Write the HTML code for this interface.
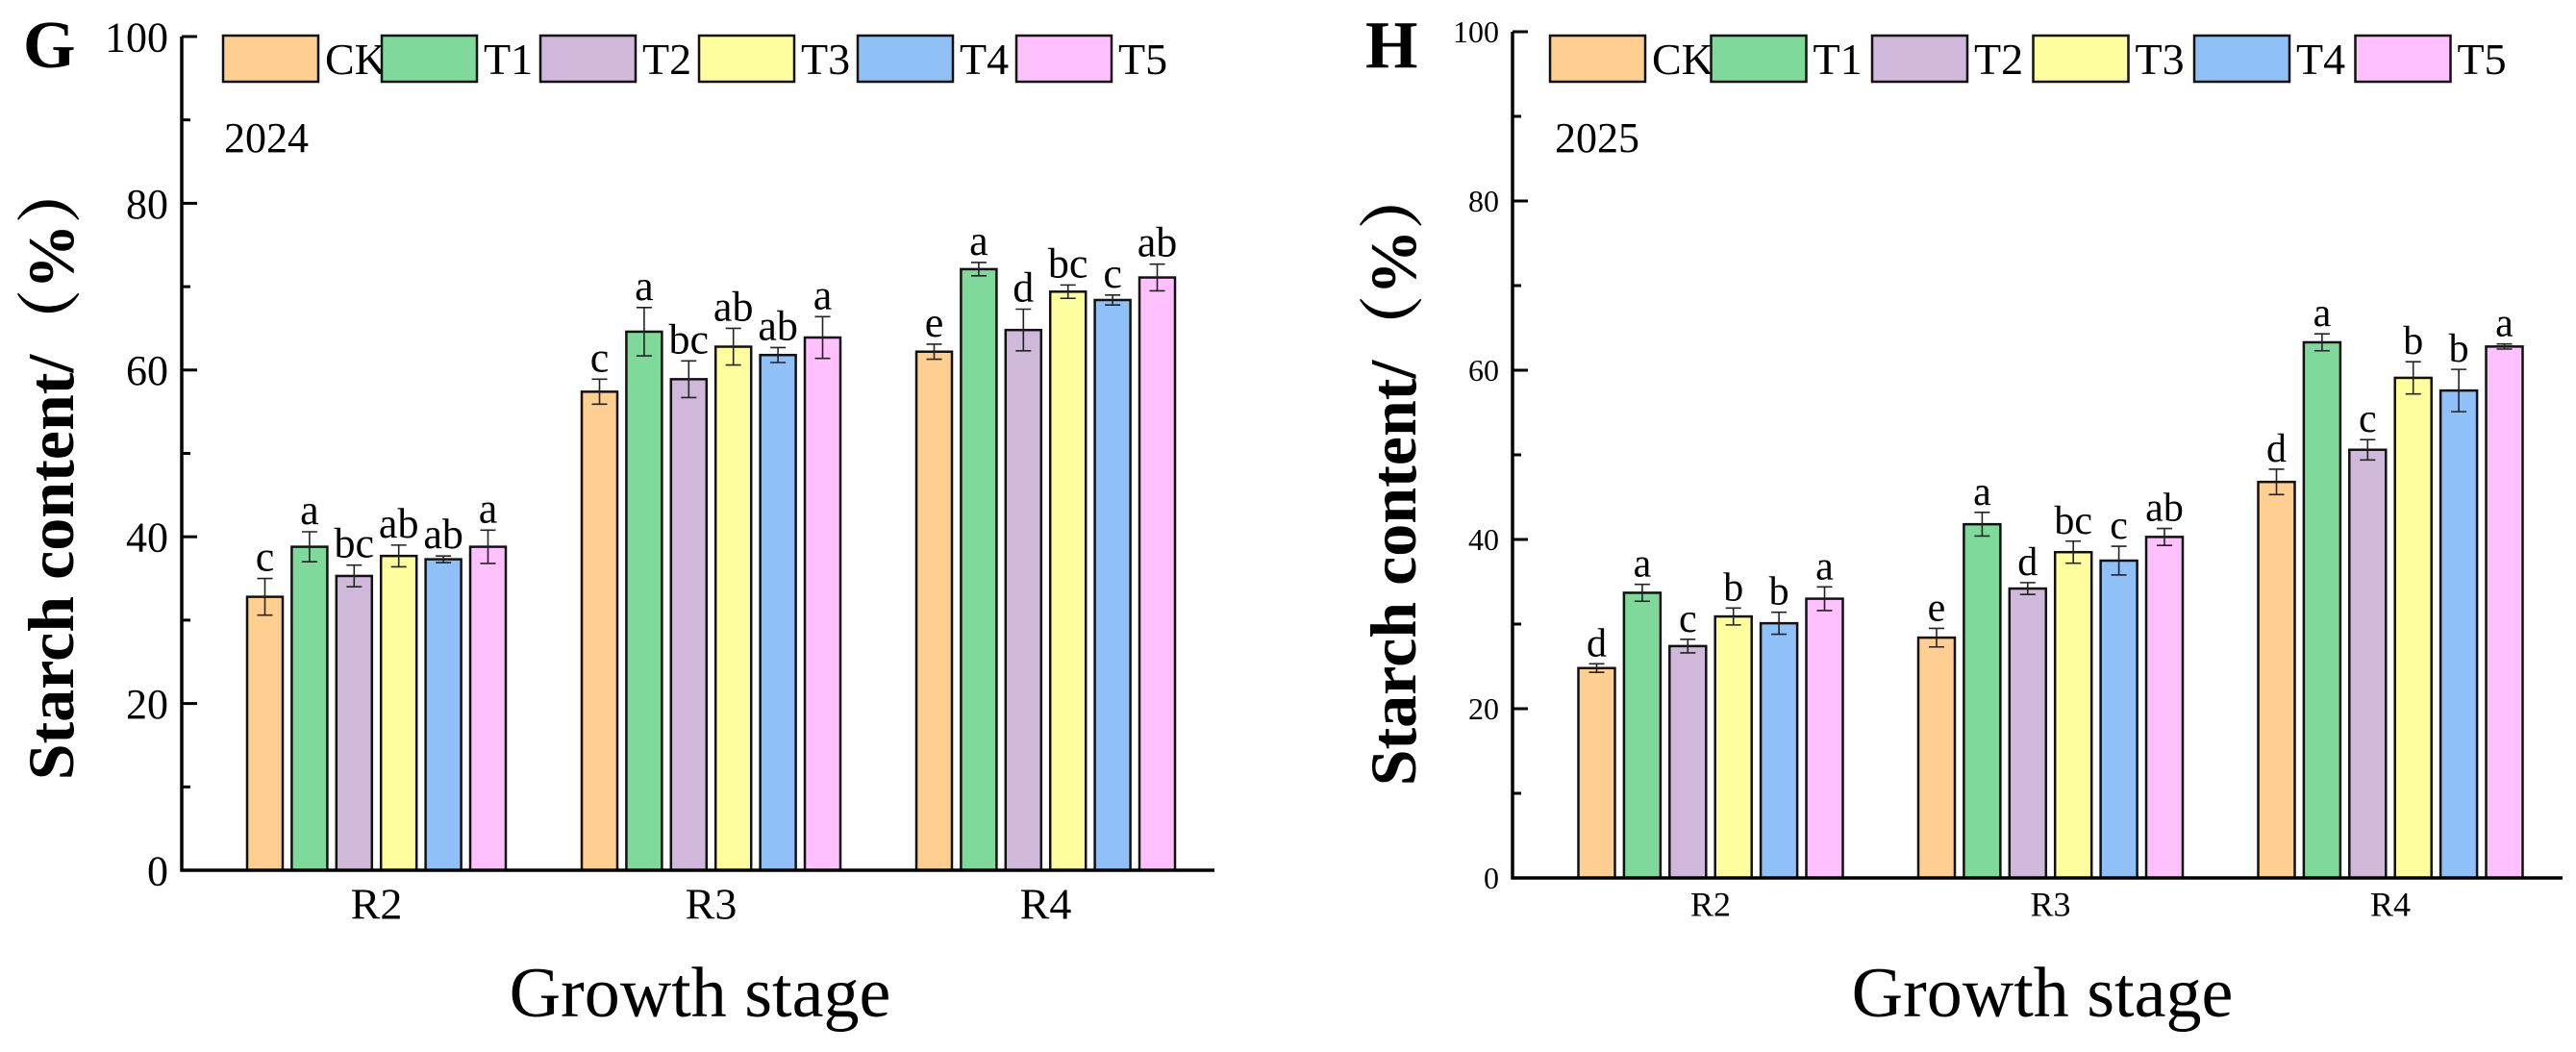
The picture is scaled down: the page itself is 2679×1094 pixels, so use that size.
<!DOCTYPE html>
<html><head><meta charset="utf-8"><style>
html,body{margin:0;padding:0;background:#fff;}
svg{display:block;font-family:"Liberation Serif","Noto Serif CJK SC",serif;}
</style></head><body>
<svg id="svg" width="2679" height="1094" viewBox="0 0 2679 1094" xmlns="http://www.w3.org/2000/svg"></svg>
<script>
const categories = ["R2","R3","R4"];
const seriesNames = ["CK","T1","T2","T3","T4","T5"];
const colors = ["#FECF90","#7FD99A","#CFB8DA","#FEFE9E","#8FC0F8","#FFC0FE"];
const yTicks = [0,20,40,60,80,100];
// 2024 (panel G)
const g_CK = [32.8,57.4,62.2];
const g_T1 = [38.8,64.6,72.1];
const g_T2 = [35.3,58.9,64.8];
const g_T3 = [37.7,62.8,69.4];
const g_T4 = [37.3,61.8,68.4];
const g_T5 = [38.8,63.9,71.1];
const g_err_CK = [2.2,1.5,0.9];
const g_err_T1 = [1.8,2.9,0.8];
const g_err_T2 = [1.3,2.2,2.5];
const g_err_T3 = [1.3,2.2,0.8];
const g_err_T4 = [0.4,0.9,0.6];
const g_err_T5 = [2.0,2.5,1.6];
const g_letters = [["c","c","e"],["a","a","a"],["bc","bc","d"],["ab","ab","bc"],["ab","ab","c"],["a","a","ab"]];
// 2025 (panel H)
const h_CK = [24.8,28.4,46.8];
const h_T1 = [33.7,41.8,63.3];
const h_T2 = [27.4,34.2,50.6];
const h_T3 = [30.9,38.5,59.1];
const h_T4 = [30.1,37.5,57.6];
const h_T5 = [33.0,40.3,62.8];
const h_err_CK = [0.5,1.1,1.5];
const h_err_T1 = [1.0,1.4,1.0];
const h_err_T2 = [0.8,0.7,1.2];
const h_err_T3 = [1.0,1.3,1.9];
const h_err_T4 = [1.3,1.7,2.5];
const h_err_T5 = [1.4,1.0,0.3];
const h_letters = [["d","e","d"],["a","a","a"],["c","d","c"],["b","bc","b"],["b","c","b"],["a","ab","a"]];

const NS="http://www.w3.org/2000/svg";
const svg=document.getElementById('svg');
function mk(tag,attrs,parent,text){const e=document.createElementNS(NS,tag);for(const k in attrs)e.setAttribute(k,attrs[k]);if(text!==undefined)e.textContent=text;(parent||svg).appendChild(e);return e;}

function panel(p){
  const g=mk('g',{});
  
  
  const y=v=>p.y0-(v/100)*(p.y0-p.y100);
  const xc=i=>p.c0+i*p.cs;
  const vals=p.vals, errs=p.errs;
  for(let s=0;s<6;s++){
    for(let i=0;i<categories.length;i++){
      const left=xc(i)-p.gw/2+s*p.pitch;
      const top=y(vals[s][i]);
      const r=mk('rect',{x:left,y:top,width:p.bw,height:p.y0-top,fill:colors[s],stroke:'#111','stroke-width':2.5},g);
      
      
      const cx=left+p.bw/2, e=errs[s][i];
      const eb=mk('path',{d:`M${cx},${y(vals[s][i]+e)}V${y(vals[s][i]-e)}M${cx-8},${y(vals[s][i]+e)}h16M${cx-8},${y(vals[s][i]-e)}h16`,stroke:'#222','stroke-width':1.6,fill:'none'},g);
      
      
      const t=mk('text',{x:cx,y:y(vals[s][i]+e)-8,'text-anchor':'middle','font-size':p.lf},g,p.letters[s][i]);
      
      
    }
  }
  const ax=mk('path',{d:`M${p.ax},${p.y100}V${p.y0}H${p.xend}`,stroke:'#000','stroke-width':3.5,fill:'none'},g);
  
  
  for(let v=0;v<=100;v+=10){
    const major=v%20===0;
    mk('line',{x1:p.ax,x2:p.ax+(major?16:9),y1:y(v),y2:y(v),stroke:'#000','stroke-width':3},g);
  }
  yTicks.forEach(v=>{
    const t=mk('text',{x:p.ax-14,y:y(v)+p.tf*0.35,'text-anchor':'end','font-size':p.tf},g,String(v));
    
    
  });
  categories.forEach((c,i)=>{
    const t=mk('text',{x:xc(i),y:p.y0+p.cf*1.1,'text-anchor':'middle','font-size':p.cf},g,c);
    
    
  });
  for(let s=0;s<6;s++){
    const lx=p.legX+s*p.legS;
    const lr=mk('rect',{x:lx,y:37,width:99,height:48,fill:colors[s],stroke:'#111','stroke-width':2.5},g);
    
    
    const lt=mk('text',{x:lx+106,y:77,'font-size':p.legF},g,seriesNames[s]);
    
    
  }
  const yr=mk('text',{x:p.ax+44,y:158,'font-size':p.yrF},g,p.year);
  
  
  const pl=mk('text',{x:p.plX,y:70,'font-size':70,'font-weight':'bold'},g,p.panel);
  
  
  const yt=mk('text',{x:0,y:0,'font-size':68,'font-weight':'bold','text-anchor':'middle',transform:`translate(${p.ytX},${p.ytY}) rotate(-90)`},g,'Starch content/（%）');
  
  
  const xt=mk('text',{x:p.xtX,y:1057,'font-size':74,'text-anchor':'middle'},g,'Growth stage');
  
  
}

panel({name:'panel-g-2024',panel:'G',year:'2024',vals:[g_CK,g_T1,g_T2,g_T3,g_T4,g_T5],errs:[g_err_CK,g_err_T1,g_err_T2,g_err_T3,g_err_T4,g_err_T5],letters:g_letters,
  ax:189,xend:1263,y0:905,y100:38,c0:391.5,cs:348,gw:269,pitch:46.4,bw:37,lf:44,tf:44,cf:46,legX:232,legS:165,legF:46,yrF:44,plX:24,ytX:76,ytY:488,xtX:728});
panel({name:'panel-h-2025',panel:'H',year:'2025',vals:[h_CK,h_T1,h_T2,h_T3,h_T4,h_T5],errs:[h_err_CK,h_err_T1,h_err_T2,h_err_T3,h_err_T4,h_err_T5],letters:h_letters,
  ax:1573,xend:2665,y0:913,y100:33,c0:1779,cs:353.5,gw:275,pitch:47.4,bw:38,lf:42,tf:32,cf:36,legX:1612,legS:167.5,legF:46,yrF:44,plX:1420,ytX:1472,ytY:494,xtX:2124});
</script>
</body></html>
